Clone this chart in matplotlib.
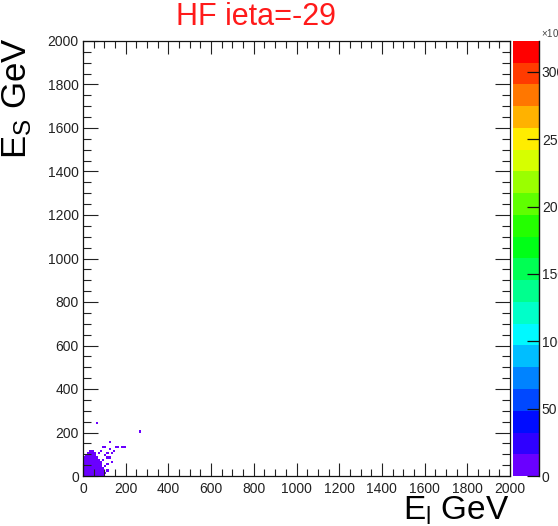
import numpy as np
import matplotlib
matplotlib.use("Agg")
import matplotlib.pyplot as plt
from matplotlib.colors import ListedColormap, BoundaryNorm, hsv_to_rgb
from matplotlib.ticker import MultipleLocator

plt.rcParams['font.family'] = ['Liberation Sans', 'DejaVu Sans']
plt.rcParams['mathtext.fontset'] = 'custom'
plt.rcParams['mathtext.rm'] = 'Liberation Sans'
plt.rcParams['mathtext.it'] = 'Liberation Sans'

# --- data (10 GeV bins, 0-2000 GeV) ---
BIN = 10
X_MAX = 2000
peak_count = 323000      # colour scale maximum (peak bin sits under the frame corner)

# dense core near the origin: per row (lower y edge) the x range and the content
blob_row_y = [0, 10, 20, 30, 40, 50, 60, 70, 80, 90, 100, 110]
blob_row_x0 = [0, 0, 0, 0, 0, 0, 0, 0, 0, 10, 20, 30]
blob_row_x1 = [90, 90, 90, 90, 80, 80, 80, 70, 60, 50, 50, 40]
blob_row_cnt = [15000, 13000, 11000, 9000, 7000, 5000, 3500, 2000, 1000, 400, 100, 20]

# isolated filled bins (bin centres, GeV)
sparse_x = [65, 260, 125, 155, 165, 185, 195, 95, 105, 125, 145, 75, 115,
            135, 115, 125, 135, 105, 115, 85, 95, 105, 105, 115, 95, 85]
sparse_y = [245, 200, 155, 135, 135, 135, 135, 135, 135, 125, 115, 105, 105,
            105, 85, 85, 65, 45, 55, 35, 25, 95, 15, 25, 75, 115]
sparse_cnt = [1] * len(sparse_x)

cbar_ticks = [0, 50000, 100000, 150000, 200000, 250000, 300000]
cbar_labels = ["0", "50", "100", "150", "200", "250", "300"]

# --- histogram ---
edges = np.arange(0, X_MAX + BIN, BIN)
H = np.zeros((len(edges) - 1, len(edges) - 1))
for y, x0, x1, c in zip(blob_row_y, blob_row_x0, blob_row_x1, blob_row_cnt):
    H[y // BIN, x0 // BIN:x1 // BIN + 1] = c
for x, y, c in zip(sparse_x, sparse_y, sparse_cnt):
    H[y // BIN, x // BIN] += c
H = np.ma.masked_where(H <= 0, H)

# ROOT-like rainbow palette, 20 contour levels
n_lev = 20
hues = np.linspace(265, 0, n_lev) / 360.0
cols = hsv_to_rgb(np.column_stack([hues, np.ones(n_lev), np.ones(n_lev)]))
cmap = ListedColormap(cols)
norm = BoundaryNorm(np.linspace(0, peak_count, n_lev + 1), n_lev)

W, Hpx = 558, 526
fig = plt.figure(figsize=(W / 100, Hpx / 100), dpi=100)
ax = fig.add_axes([83 / W, 1 - 476 / Hpx, (510 - 83) / W, (476 - 41) / Hpx])
cax = fig.add_axes([513 / W, 1 - 476 / Hpx, (539 - 513) / W, (476 - 41) / Hpx])

mesh = ax.pcolormesh(edges, edges, H, cmap=cmap, norm=norm)
ax.set_xlim(0, X_MAX)
ax.set_ylim(0, X_MAX)

ax.xaxis.set_major_locator(MultipleLocator(200))
ax.xaxis.set_minor_locator(MultipleLocator(50))
ax.yaxis.set_major_locator(MultipleLocator(200))
ax.yaxis.set_minor_locator(MultipleLocator(50))
ax.tick_params(which='both', direction='in', top=True, right=True,
               width=0.8, color='#222222', labelsize=10, labelcolor='#222222')
ax.tick_params(axis='x', which='major', length=9.5, pad=4)
ax.tick_params(axis='x', which='minor', length=5)
ax.tick_params(axis='y', which='major', length=10.5, pad=3)
ax.tick_params(axis='y', which='minor', length=6)
for s in ax.spines.values():
    s.set_linewidth(0.9)
    s.set_color('#111111')

cb = fig.colorbar(mesh, cax=cax, ticks=cbar_ticks)
cb.outline.set_visible(False)
cb.ax.set_yticklabels(cbar_labels)
cb.ax.tick_params(direction='in', length=9, width=0.9, pad=2,
                  labelsize=10, labelcolor='#222222', color='#111111')
cb.ax.minorticks_off()
cax.plot([1, 1], [0, peak_count], color='#111111', lw=1.0,
         transform=cax.get_yaxis_transform(), clip_on=False)
fig.text(541 / W, 1 - 33 / Hpx, r"$\times$10$^{3}$", fontsize=7,
         color='#444444', ha='left', va='center')

fig.text(256 / W, 1 - 17 / Hpx, "HF ieta=-29", color='#ff1a1a',
         fontsize=22, ha='center', va='center')
ax.set_xlabel(r"E$_{\mathregular{l}}$ GeV", fontsize=24)
ax.xaxis.set_label_coords(1.0, -0.042)
ax.xaxis.label.set_horizontalalignment('right')
ax.xaxis.label.set_verticalalignment('top')
ax.set_ylabel(r"E$_{\mathregular{S}}$ GeV", fontsize=25)
ax.yaxis.set_label_coords(-0.115, 1.008)
ax.yaxis.label.set_horizontalalignment('right')

fig.savefig("out.png", dpi=100)
